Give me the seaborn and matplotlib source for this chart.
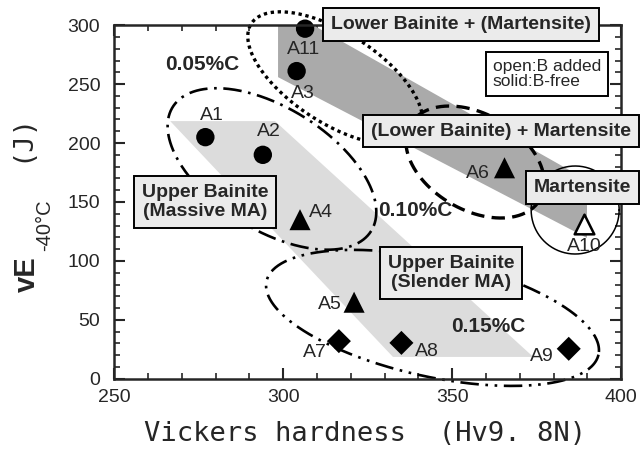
import numpy as np
import pandas as pd
import seaborn as sns
import matplotlib
matplotlib.use('Agg')
import matplotlib.pyplot as plt

# Charpy energy vs hardness
samples = ['A1', 'A2', 'A3', 'A11', 'A4', 'A5', 'A6', 'A7', 'A8', 'A9', 'A10']
hardness = [277, 294, 304, 306.5, 305, 321, 365.5, 316.5, 335, 384.5, 389]
energy = [205, 190, 261, 297, 135, 65, 179, 32, 30.5, 25.5, 131]
carbon = ['0.05', '0.05', '0.05', '0.05', '0.10', '0.10', '0.10', '0.15', '0.15', '0.15', '0.10']
boron_added = [False, False, False, False, False, False, False, False, False, False, True]

# label offsets from the marker (pixels)
label_offsets = [(7, 22), (6, 23), (6, -22), (-2, -21), (21, 7), (-24, -2),
                 (-27, -6), (-24, -11), (25, -9), (-27, -8), (0, -22)]

df = pd.DataFrame({'sample': samples, 'hv': hardness, 've': energy,
                   'carbon': carbon, 'boron': boron_added})

sns.set_style('ticks')
plt.rcParams['font.family'] = ['Liberation Sans', 'DejaVu Sans']

fig = plt.figure(figsize=(6.41, 4.57), dpi=100)
ax = fig.add_axes([0.178, 0.171, 0.791, 0.774])
ax.set_xlim(250, 400)
ax.set_ylim(0, 300)

# pixels per data unit, used for the hand drawn ellipses
sx = 0.791 * 641 / 150
sy = 0.774 * 457 / 300

# shaded microstructure bands
light_band = [(266.6, 218.6), (297.6, 218.6), (374, 18.6), (332.5, 18.6)]
dark_band = [(298.5, 300), (308.9, 300), (389.9, 168.6), (389.9, 119.5), (298.5, 255.9)]
ax.fill(*zip(*light_band), color='#dcdcdc', lw=0, zorder=0.5)
ax.fill(*zip(*dark_band), color='#aaaaaa', lw=0, zorder=0.6)


def ellipse_xy(cx, cy, a, b, ang):
    t = np.linspace(0, 2 * np.pi, 400)
    u = a * np.cos(t)
    v = b * np.sin(t)
    th = np.deg2rad(ang)
    dx = u * np.cos(th) - v * np.sin(th)
    dy = u * np.sin(th) + v * np.cos(th)
    return cx + dx / sx, cy - dy / sy


ellipses = [
    ((315.4, 255.1), 100, 45, 33, (0, (1, 1.1)), 2.4),
    ((296.7, 178.0), 117, 61, 32, (0, (7, 2.5, 1, 2.5)), 1.9),
    ((344.2, 51.7), 170, 58.6, 12.5, (0, (7, 2.5, 1, 2.5, 1, 2.5)), 1.9),
    ((356.8, 183.9), 75, 48, 30, (0, (4, 2.2)), 2.4),
    ((386.4, 143.2), 44, 44, 0, '-', 1.1),
]
for (cx, cy), a, b, ang, ls, lw in ellipses:
    ex, ey = ellipse_xy(cx, cy, a, b, ang)
    ax.plot(ex, ey, color='black', ls=ls, lw=lw, zorder=2, clip_on=False)

# markers
solid = df[~df['boron']]
sns.scatterplot(data=solid, x='hv', y='ve', style='carbon', size='carbon',
                markers={'0.05': 'o', '0.10': '^', '0.15': 'D'},
                sizes={'0.05': 175, '0.10': 230, '0.15': 150},
                color='black', edgecolor='black', linewidth=0,
                legend=False, ax=ax, zorder=3, clip_on=False)
opened = df[df['boron']]
sns.scatterplot(data=opened, x='hv', y='ve', marker='^', s=200,
                color='white', edgecolor='black', linewidth=1.8,
                legend=False, ax=ax, zorder=3)

for name, x, y, off in zip(samples, hardness, energy, label_offsets):
    ax.annotate(name, (x, y), xytext=off, textcoords='offset pixels',
                ha='center', va='center', fontsize=14, zorder=5)

# microstructure boxes
box = dict(boxstyle='square,pad=0.4', fc='#ebebeb', ec='black', lw=1.4)
ax.text(352.7, 300.4, 'Lower Bainite + (Martensite)', ha='center', va='center',
        fontsize=14, fontweight='bold', bbox=box, zorder=6)
ax.text(364.5, 210.2, '(Lower Bainite) + Martensite', ha='center', va='center',
        fontsize=14, fontweight='bold', bbox=box, zorder=6)
ax.text(388.6, 162.3, 'Martensite', ha='center', va='center',
        fontsize=14, fontweight='bold', bbox=box, zorder=6)
ax.text(276.9, 150, 'Upper Bainite\n(Massive MA)', ha='center', va='center',
        fontsize=14, fontweight='bold', bbox=box, zorder=6, linespacing=1.15)
ax.text(349.7, 89.8, 'Upper Bainite\n(Slender MA)', ha='center', va='center',
        fontsize=14, fontweight='bold', bbox=box, zorder=6, linespacing=1.15)
ax.text(378, 258.5, 'open:B added\nsolid:B-free', ha='center', va='center',
        multialignment='left', fontsize=12.5, linespacing=1.05, zorder=6,
        bbox=dict(boxstyle='square,pad=0.4', fc='white', ec='black', lw=1.4))

for txt, x, y in [('0.05%C', 276.2, 266.5), ('0.10%C', 339, 143.2), ('0.15%C', 360.8, 44.5)]:
    ax.text(x, y, txt, ha='center', va='center', fontsize=15, fontweight='bold', zorder=5)

# axes styling
ax.set_xticks([250, 300, 350, 400])
ax.set_yticks([0, 50, 100, 150, 200, 250, 300])
ax.set_xticks(np.arange(250, 401, 10), minor=True)
ax.set_yticks(np.arange(0, 301, 10), minor=True)
ax.tick_params(which='both', direction='in', top=True, right=True, labelsize=14)
ax.tick_params(which='major', length=8, width=1.5)
ax.tick_params(axis='x', which='major', pad=7)
ax.tick_params(axis='y', which='major', pad=10)
ax.tick_params(which='minor', length=4.5, width=1.2)
for sp in ax.spines.values():
    sp.set_linewidth(1.8)
    sp.set_zorder(4)
ax.set_xlabel('')
ax.set_ylabel('')

W, H = 641, 457
fig.text(365 / W, 1 - 434 / H, 'Vickers hardness  (Hv9. 8N)', ha='center', va='center',
         family='DejaVu Sans Mono', fontsize=19.5)
fig.text(27 / W, 1 - 274.5 / H, 'vE', rotation=90, ha='center', va='center',
         fontsize=21, fontweight='bold')
fig.text(45 / W, 1 - 225 / H, '-40°C', rotation=90, ha='center', va='center', fontsize=14.5)
fig.text(21 / W, 1 - 137.5 / H, '(J)', rotation=90, ha='center', va='center',
         family='DejaVu Sans Mono', fontsize=19.5)

fig.savefig('out.png', dpi=100)
